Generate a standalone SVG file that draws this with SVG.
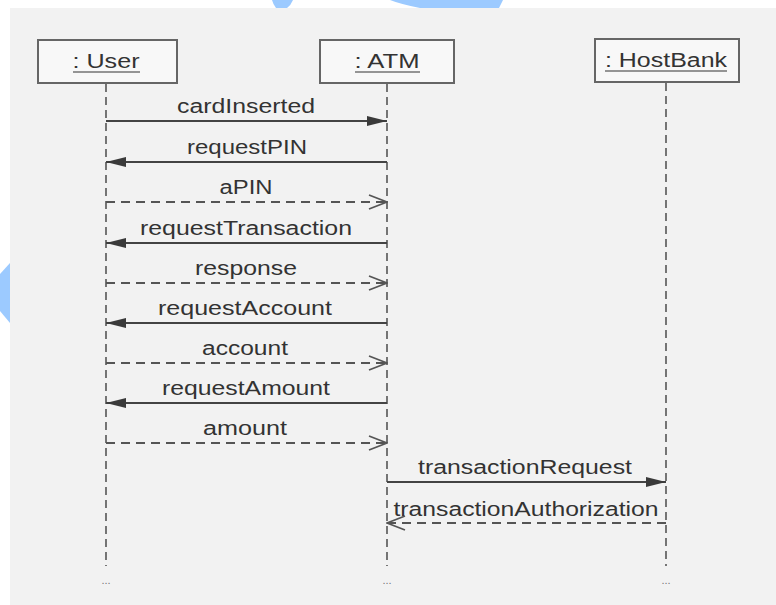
<svg xmlns="http://www.w3.org/2000/svg" width="776" height="605" viewBox="0 0 776 605">
<style>
.bg{fill:#f2f2f2}
.box{fill:#f8f8f8;stroke:#666;stroke-width:2}
.life{stroke:#555;stroke-width:1.6;stroke-dasharray:8,5;fill:none}
.msg{stroke:#444;stroke-width:2;fill:none}
.ret{stroke:#555;stroke-width:1.8;fill:none;stroke-dasharray:9,6}
.t{font-family:"Liberation Sans",Arial,sans-serif;font-size:20px;fill:#333;text-anchor:middle}
.ul{stroke:#333;stroke-width:1.2}
.dots{font-family:"Liberation Sans",Arial,sans-serif;font-size:11px;fill:#777;text-anchor:middle}
.wm{fill:#9ccaff}
</style>
<defs>
<marker id="filled" viewBox="0 0 20 10" markerWidth="20" markerHeight="10" refX="20" refY="5" orient="auto" markerUnits="userSpaceOnUse">
<path d="M0,0 L20,5 L0,10 z" fill="#3a3a3a"/>
</marker>
<marker id="open" viewBox="0 0 20 16" markerWidth="20" markerHeight="16" refX="19" refY="8" orient="auto" markerUnits="userSpaceOnUse">
<path d="M1,1 L19,8 L1,15" fill="none" stroke="#555" stroke-width="1.8"/>
</marker>
</defs>
<rect x="0" y="0" width="776" height="605" fill="#ffffff"/>
<rect class="bg" x="10" y="8" width="766" height="597"/>
<g id="watermark">
<path class="wm" d="M272,0 H293 Q291,5 287,8 H276 Q273,4 272,0 z"/>
<path class="wm" d="M373,0 H503 L499,8 H420 Q400,4 390,0 z"/>
<polygon class="wm" points="10,263 0,274 0,311 10,323"/>
</g>
<g id="user">
<rect class="box" x="38" y="40" width="139" height="43"/>
<text class="t" x="106" y="68" textLength="67" lengthAdjust="spacingAndGlyphs">: User</text>
<line class="ul" x1="73" y1="72" x2="140" y2="72"/>
<line class="life" x1="106" y1="84" x2="106" y2="566"/>
<text class="dots" x="106" y="584">...</text>
</g>
<g id="atm">
<rect class="box" x="320" y="40" width="134" height="43"/>
<text class="t" x="387" y="68" textLength="65" lengthAdjust="spacingAndGlyphs">: ATM</text>
<line class="ul" x1="355" y1="72" x2="420" y2="72"/>
<line class="life" x1="387" y1="84" x2="387" y2="566"/>
<text class="dots" x="387" y="584">...</text>
</g>
<g id="hostbank">
<rect class="box" x="595" y="39" width="144" height="43"/>
<text class="t" x="666" y="67" textLength="122" lengthAdjust="spacingAndGlyphs">: HostBank</text>
<line class="ul" x1="605" y1="71" x2="727" y2="71"/>
<line class="life" x1="666" y1="83" x2="666" y2="566"/>
<text class="dots" x="666" y="584">...</text>
</g>
<g id="connectors">
<line class="msg" x1="106" y1="121" x2="387" y2="121" marker-end="url(#filled)"/>
<line class="msg" x1="387" y1="162" x2="106" y2="162" marker-end="url(#filled)"/>
<line class="ret" x1="106" y1="202" x2="387" y2="202" marker-end="url(#open)"/>
<line class="msg" x1="387" y1="243" x2="106" y2="243" marker-end="url(#filled)"/>
<line class="ret" x1="106" y1="283" x2="387" y2="283" marker-end="url(#open)"/>
<line class="msg" x1="387" y1="323" x2="106" y2="323" marker-end="url(#filled)"/>
<line class="ret" x1="106" y1="363" x2="387" y2="363" marker-end="url(#open)"/>
<line class="msg" x1="387" y1="403" x2="106" y2="403" marker-end="url(#filled)"/>
<line class="ret" x1="106" y1="443" x2="387" y2="443" marker-end="url(#open)"/>
<line class="msg" x1="387" y1="482" x2="666" y2="482" marker-end="url(#filled)"/>
<line class="ret" x1="666" y1="523" x2="387" y2="523" marker-end="url(#open)"/>
</g>
<g id="labels">
<text class="t" x="246" y="113" textLength="138" lengthAdjust="spacingAndGlyphs">cardInserted</text>
<text class="t" x="247" y="154" textLength="120" lengthAdjust="spacingAndGlyphs">requestPIN</text>
<text class="t" x="246" y="194" textLength="53" lengthAdjust="spacingAndGlyphs">aPIN</text>
<text class="t" x="246" y="235" textLength="212" lengthAdjust="spacingAndGlyphs">requestTransaction</text>
<text class="t" x="246" y="275" textLength="102" lengthAdjust="spacingAndGlyphs">response</text>
<text class="t" x="245" y="315" textLength="174" lengthAdjust="spacingAndGlyphs">requestAccount</text>
<text class="t" x="245" y="355" textLength="86" lengthAdjust="spacingAndGlyphs">account</text>
<text class="t" x="246" y="395" textLength="168" lengthAdjust="spacingAndGlyphs">requestAmount</text>
<text class="t" x="245" y="435" textLength="84" lengthAdjust="spacingAndGlyphs">amount</text>
<text class="t" x="525" y="474" textLength="214" lengthAdjust="spacingAndGlyphs">transactionRequest</text>
<text class="t" x="526" y="516" textLength="265" lengthAdjust="spacingAndGlyphs">transactionAuthorization</text>
</g>
</svg>
